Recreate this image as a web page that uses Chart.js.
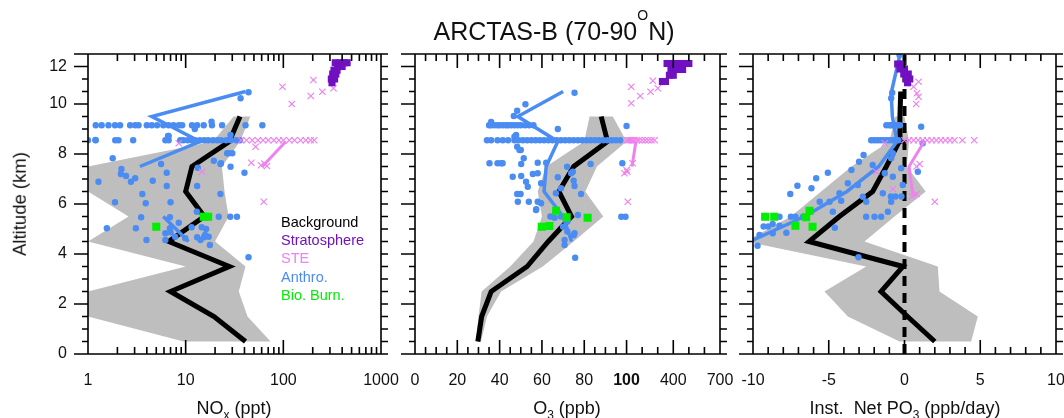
<!DOCTYPE html>
<html>
<head>
<meta charset="utf-8">
<script src="https://cdn.jsdelivr.net/npm/chart.js@4.4.0/dist/chart.umd.min.js"></script>
<style>
  body { margin: 0; background: #fff; font-family: 'Liberation Sans', Arial, sans-serif; }
  #wrap { position: relative; width: 1064px; height: 418px; overflow: hidden; }
  canvas { position: absolute; left: 0; top: 0; }
  .t { position: absolute; white-space: nowrap; color: #111; }
  #title { left: 554px; top: 15px; font-size: 25px; line-height: 25px; transform: translateX(-50%); }
  #title .deg { font-size: 14px; vertical-align: 20px; line-height: 0; }
  .xlab { top: 399px; font-size: 18px; line-height: 18px; transform: translateX(-50%); }
  .xlab sub { font-size: 12px; vertical-align: -5px; line-height: 0; }
  #ylab { left: 20px; top: 204px; font-size: 18.5px; line-height: 18.5px; transform: translate(-50%, -50%) rotate(-90deg); }
  #legend { left: 281px; top: 213px; font-size: 14.5px; line-height: 18.2px; }
</style>
</head>
<body>
<div id="wrap">
  <canvas id="noxChart" width="1064" height="418"></canvas>
  <canvas id="o3Chart" width="1064" height="418"></canvas>
  <canvas id="po3Chart" width="1064" height="418"></canvas>
  <div class="t" id="title">ARCTAS-B (70-90<span class="deg">O</span>N)</div>
  <div class="t" id="ylab">Altitude (km)</div>
  <div class="t xlab" style="left:234px">NO<sub>x</sub> (ppt)</div>
  <div class="t xlab" style="left:567px">O<sub>3</sub> (ppb)</div>
  <div class="t xlab" style="left:905px">Inst.&nbsp; Net PO<sub>3</sub> (ppb/day)</div>
  <div class="t" id="legend"></div>
</div>
<script>
// altitude levels (km)
const ALT = [0.5, 1.5, 2.5, 3.5, 4.5, 5.5, 6.5, 7.5, 8.5, 9.5];
const ALT_PO3 = [0.5, 1.5, 2.5, 3.5, 4.5, 5.5, 6.5, 7.5, 8.5, 9.5, 10.5];
const ANTH_ALT = [10.5, 9.5, 8.5, 7.5, 6.5, 5.5, 4.5];
const ROW_UPPER = 9.15;
const ROW_LOWER = 8.55;

const legendLabels = ['Background', 'Stratosphere', 'STE', 'Anthro.', 'Bio. Burn.'];
const legendColors = ['#000000', '#7010c0', '#ee82ee', '#4a8cf2', '#00ee00'];
const BAND = '#bebebe';

// ---- NOx (ppt) ----
const noxBackground = [41, 19.5, 7, 28, 6.7, 15.5, 10, 11.6, 28, 36];
const noxLow = [9.5, 1, 1, 10, 1, 2.6, 1, 1, 19, 31];
const noxHigh = [74, 43, 35, 41, 20, 27.5, 25, 23.5, 36, 46];
const noxAnthroLine = [41, 4.5, 14, 3.4, null, 5.9, 10.7];
const noxAnthroUpperRow = [1.2, 1.38, 1.62, 1.89, 2.13, 2.7, 3.04, 3.29, 4.0, 4.5, 5.1, 5.9, 6.7, 7.5, 8.5, 9.2, 11.6, 13.1, 15.3, 18.6, 23.6, 41, 61];
const noxAnthroLowerRow = [1.0, 1.2, 1.9, 2.05, 2.9, 6.2, 6.7, 8.8, 9.5, 10.5, 11.5, 12.5, 14, 15.5, 17, 19, 21, 23, 26, 29, 33, 36];
const noxAnthroPts = [[44, 10.47], [36.5, 10.23], [18.4, 9.29], [12.4, 9.0], [6.7, 8.72], [28.8, 8.76], [26.6, 8.03], [30, 8.03],
  [1.79, 7.83], [19.4, 7.73], [22.7, 7.6], [5.6, 7.6], [28.8, 7.49], [13.3, 7.45], [2.2, 7.4], [2.17, 7.2], [2.45, 7.12],
  [2.75, 6.89], [3.04, 7.03], [1.28, 6.89], [4.6, 6.93], [6.4, 7.25], [6.4, 6.72], [13.1, 6.72], [40, 7.25], [3.6, 6.4],
  [22.7, 6.4], [3.9, 6.03], [1.89, 6.07], [7.0, 6.07], [3.5, 5.47], [6.9, 5.47], [13, 5.69], [21.8, 5.49], [28.6, 5.49],
  [33.5, 5.49], [1.56, 5.03], [3.09, 5.03], [6.9, 5.03], [8.5, 5.25], [11.5, 5.07], [14.6, 5.07], [16.2, 5.0], [17.2, 4.69],
  [6.2, 4.83], [7.0, 4.87], [7.8, 4.69], [9.9, 4.63], [13.1, 4.67], [15.4, 4.67], [3.97, 4.56], [6.2, 4.56], [14.2, 4.56],
  [15.8, 4.76], [17.7, 4.36], [44, 3.87], [23, 7.63], [27.5, 8.03], [6.6, 8.72], [1.19, 8.56]];
const noxSteRow = [37, 42, 48, 55, 62, 70, 80, 90, 100, 115, 130, 150, 170, 190, 207];
const noxStePts = [[98, 10.69], [203, 10.96], [191, 10.32], [251, 10.49], [326, 10.63], [122, 10.0], [8.5, 8.43],
  [14.7, 7.29], [52, 8.29], [47, 7.65], [63, 6.09], [59, 7.55], [64, 7.62], [68, 7.52]];
const noxSteLine = [[106, 8.5], [61, 7.5]];
const noxStrat = [[340, 11.65], [380, 11.65], [420, 11.65], [450, 11.65], [360, 11.5], [400, 11.5], [330, 11.35],
  [355, 11.35], [320, 11.2], [345, 11.2], [310, 11.0], [335, 11.0], [315, 10.85]];
const noxBio = [[5.0, 5.09], [15.3, 5.49], [17, 5.49]];
const noxTickVals = [1, 10, 100, 1000];

// ---- O3 (ppb), axis broken at 100 ----
const o3Background = [29.7, 31.5, 36, 53, 63, 74, 68, 75, 91, 88];
const o3Low = [28.9, 30, 31.5, 45, 56, 60, 58, 62, 80, 82.5];
const o3High = [31.2, 34, 40.7, 60.4, 75, 89, 80.5, 86, 100, 93.5];
const o3AnthroLine = [70, 48.6, 67.5, 62, 61, 70, 74];
const o3AnthroUpperRow = [35, 36, 37.5, 39, 40, 41.5, 43, 44, 45.5, 47, 48.5, 50, 52, 54, 56];
const o3AnthroLowerRow = [34, 36, 39, 41.5, 44, 47, 49, 51, 53, 55, 57, 59, 61, 63, 65, 67, 69, 71, 73, 75, 77, 79, 81, 83, 85, 87, 89, 91, 93, 95, 97];
const o3AnthroPts = [[75.4, 10.45], [52.2, 9.99], [48.3, 9.73], [46.7, 9.52], [36, 9.28], [67.5, 9.0], [100, 9.12],
  [47.8, 8.76], [48.3, 8.29], [49.4, 8.16], [35.2, 7.63], [39, 7.63], [40.7, 7.63], [51.4, 7.83], [50.2, 7.6], [58, 7.65],
  [62, 7.65], [71.9, 7.49], [74.6, 7.29], [83, 7.6], [98, 7.63], [46.2, 7.09], [50.2, 7.12], [55.7, 7.2], [59.6, 6.83],
  [53.3, 6.69], [52.5, 6.89], [67.5, 7.07], [75.4, 6.72], [78.5, 6.4], [48.3, 6.4], [49.9, 6.4], [48.6, 6.09], [53.8, 6.09],
  [58, 6.09], [59.6, 6.03], [57.3, 5.79], [77, 5.56], [70, 5.09], [72, 4.9], [75, 4.75], [70.7, 4.56], [75.4, 4.83],
  [70.7, 4.36], [75.7, 3.85], [69, 5.5], [66, 5.45], [64, 5.5], [72, 5.3], [97.5, 5.49], [99.5, 5.49], [47, 8.69],
  [50, 8.16], [41.4, 7.63], [58, 7.23], [66.6, 6.43], [69, 6.63], [73.8, 7.23], [75, 6.93], [57.2, 5.76]];
const o3SteRow = [102, 110, 120, 130, 140, 150, 165, 180, 200, 220, 240, 260, 280];
const o3StePts = [[130, 10.69], [130, 10.03], [188, 10.32], [254, 10.49], [269, 10.93], [301, 10.63], [104, 7.29],
  [139, 7.63], [100, 7.36], [99, 7.23], [108, 6.09]];
const o3SteLine = [[160, 8.5], [135, 7.5]];
const o3Strat = [[360, 11.62], [400, 11.62], [440, 11.62], [480, 11.62], [500, 11.62], [385, 11.38], [420, 11.38],
  [460, 11.38], [375, 11.15], [400, 11.15], [330, 10.9], [350, 10.9]];
const o3Bio = [[66.7, 5.73], [71.7, 5.47], [81.6, 5.45], [59.9, 5.09], [63.5, 5.12]];
const o3TickVals = [0, 20, 40, 60, 80, 100, 400, 700];
const O3_BREAK = 100;
const O3_SQUEEZE = 0.0736;

// ---- Net PO3 (ppb/day) ----
const po3Background = [2.0, 0.2, -1.55, -0.1, -6.3, -4.3, -2.1, -1.2, -0.35, -0.3, -0.25];
const po3Low = [-0.33, -3.74, -5.28, -2.53, -10.5, -7.5, -5.5, -3.5, -1.0, -0.6];
const po3High = [4.4, 4.84, 2.31, 2.2, -2.64, -0.66, 1.4, 0.15, 0.3, 0.0];
const po3AnthroLine = [[-0.33, 11.9], [-0.88, 10.43], [-0.8, 9.5], [-0.5, 8.5], [-1.7, 7.5], [-3.8, 6.5], [-6.6, 5.5], [-10.2, 4.5]];
const po3AnthroUpperRow = [-1.2, -1.0, -0.9, -0.75, -0.6, -0.45, -0.3];
const po3AnthroLowerRow = [-2.2, -2.0, -1.8, -1.6, -1.4, -1.2, -1.0, -0.8, -0.6, -0.4];
const po3AnthroPts = [[-0.33, 11.96], [-0.81, 10.45], [-0.88, 10.23], [1.1, 9.09], [1.2, 8.43], [0.88, 7.29], [-0.77, 8.03],
  [-0.88, 7.83], [-0.22, 7.43], [-2.7, 7.96], [-3.0, 7.69], [-3.5, 7.36], [-2.1, 7.56], [-1.3, 7.23], [-0.77, 7.09],
  [-0.11, 6.76], [-5.83, 7.03], [-5.06, 7.25], [-7.07, 6.73], [-6.14, 6.63], [-7.54, 6.4], [-3.74, 6.83], [-3.08, 6.76],
  [-2.75, 6.29], [-1.43, 6.43], [-0.9, 6.3], [-0.6, 6.3], [-0.2, 6.3], [-2.53, 6.09], [-4.29, 6.43], [-5.6, 6.09],
  [-4.95, 6.09], [-4.18, 6.13], [-4.73, 5.69], [-2.53, 5.49], [-1.98, 5.49], [-1.54, 5.49], [-1.1, 5.69], [-7.5, 5.49],
  [-7.2, 5.49], [-6.7, 5.49], [-8.25, 5.49], [-8.7, 5.2], [-8.25, 5.13], [-9.0, 5.1], [-9.3, 5.1], [-9.57, 4.76],
  [-7.8, 4.85], [-4.6, 5.05], [-9.7, 4.33], [-8.7, 4.83], [-3.04, 3.87], [-0.88, 6.09]];
const po3SteRow = [0, 0.3, 0.6, 0.9, 1.2, 1.5, 1.8, 2.1, 2.4, 2.7, 3.0, 3.3];
const po3StePts = [[3.82, 8.55], [4.6, 8.55], [0.93, 10.89], [0.6, 10.69], [0.82, 10.43], [0.93, 10.29], [0.77, 10.0],
  [-1.3, 8.43], [-1.87, 7.29], [-0.77, 6.6], [0.66, 6.36], [0.5, 6.3], [0.8, 6.4], [2.0, 6.09], [1.0, 7.6], [0.8, 7.5]];
const po3SteLine = [[1.3, 8.5], [0.3, 7.5], [0.55, 6.36]];
const po3Strat = [[-0.45, 11.6], [-0.15, 11.6], [-0.3, 11.4], [0.0, 11.4], [-0.05, 11.2], [0.25, 11.2], [0.1, 11.0],
  [0.35, 11.0], [0.2, 10.85]];
const po3Bio = [[-9.2, 5.49], [-8.6, 5.49], [-6.27, 5.73], [-6.49, 5.47], [-7.2, 5.13], [-6.07, 5.09]];
const po3Zero = [[0, 0], [0, 12]];
const po3TickVals = [-10, -5, 0, 5, 10];

const altTickVals = [0, 2, 4, 6, 8, 10, 11.5];
const altTickText = ['0', '2', '4', '6', '8', '10', '12'];

const FONT = "'Liberation Sans', Arial, sans-serif";
const X_LABEL_BOX = 40;   // height of the x tick label strip
const Y_LABEL_BOX = 68;   // width of the y tick label strip (first panel)
const ident = v => v;
const o3x = v => v <= O3_BREAK ? v : O3_BREAK + (v - O3_BREAK) * O3_SQUEEZE;

function pts(pairs, fx) { return pairs.map(([v, z]) => ({ x: fx(v), y: z })); }
function row(vals, alt, fx) { return vals.map(v => ({ x: fx(v), y: alt })); }
function profile(vals, alts, fx) { return vals.map((v, i) => ({ x: v == null ? null : fx(v), y: alts[i] })); }
function band(lo, hi, alts, fx) {
  const left = lo.map((v, i) => ({ x: fx(v), y: alts[i] }));
  const right = hi.map((v, i) => ({ x: fx(v), y: alts[i] })).reverse();
  return left.concat(right);
}

// frame with inward x ticks and outward y ticks, IDL style
const framePlugin = {
  id: 'frame',
  afterDatasetsDraw(chart, args, opts) {
    const { ctx, chartArea: a } = chart;
    const xs = chart.scales.x, ys = chart.scales.y;
    ctx.save();
    ctx.strokeStyle = '#000';
    ctx.lineWidth = 1.6;
    ctx.beginPath();
    ctx.moveTo(a.left, a.top); ctx.lineTo(a.left, a.bottom);
    ctx.moveTo(a.right, a.top); ctx.lineTo(a.right, a.bottom);
    ctx.moveTo(a.left - 14, a.top); ctx.lineTo(a.right + 7, a.top);
    ctx.moveTo(a.left - 14, a.bottom); ctx.lineTo(a.right + 7, a.bottom);
    const xTicks = (vals, len) => vals.forEach(v => {
      const p = xs.getPixelForValue(v);
      ctx.moveTo(p, a.bottom); ctx.lineTo(p, a.bottom - len);
      ctx.moveTo(p, a.top); ctx.lineTo(p, a.top + len);
    });
    const yTicks = (vals, len) => vals.forEach(v => {
      const p = ys.getPixelForValue(v);
      ctx.moveTo(a.left, p); ctx.lineTo(a.left - len, p);
      ctx.moveTo(a.right, p); ctx.lineTo(a.right + 7, p);
    });
    xTicks(opts.xMajor, 14);
    xTicks(opts.xMinor, 7);
    yTicks(altTickVals, 14);
    yTicks(opts.yMinor, 6);
    ctx.stroke();
    ctx.restore();
  }
};

const yMinor = [];
for (let z = 0.5; z < 11.5; z += 0.5) if (!altTickVals.includes(z)) yMinor.push(z);

function makePanel(id, cfg) {
  const fx = cfg.fx;
  const datasets = [
    { data: band(cfg.low, cfg.high, ALT, fx), showLine: true, fill: 'shape', backgroundColor: BAND,
      borderWidth: 0, pointRadius: 0, order: 10 },
    { data: profile(cfg.background, cfg.bgAlt, fx), showLine: true, borderColor: '#000', borderWidth: 5,
      pointRadius: 0, order: 9 },
    { data: row(cfg.anthroUpper, ROW_UPPER, fx).concat(row(cfg.anthroLower, ROW_LOWER, fx), pts(cfg.anthroPts, fx)),
      pointStyle: 'circle', pointRadius: 3.2, backgroundColor: legendColors[3], borderWidth: 0, order: 7 },
    { data: cfg.anthroLine, showLine: true, borderColor: legendColors[3], borderWidth: 3.5, pointRadius: 0, order: 6 },
    { data: row(cfg.steRow, ROW_LOWER, fx).concat(pts(cfg.stePts, fx)), pointStyle: 'crossRot', pointRadius: 4.5,
      borderColor: legendColors[2], borderWidth: 1.2, backgroundColor: legendColors[2], order: 5 },
    { data: pts(cfg.steLine, fx), showLine: true, borderColor: legendColors[2], borderWidth: 3, pointRadius: 0, order: 4 },
    { data: pts(cfg.strat, fx), pointStyle: 'rect', pointRadius: 5, backgroundColor: legendColors[1], borderWidth: 0, order: 3 },
    { data: pts(cfg.bio, fx), pointStyle: 'rect', pointRadius: 5.7, backgroundColor: legendColors[4], borderWidth: 0, order: 2 }
  ];
  if (cfg.zero) {
    datasets.push({ data: pts(cfg.zero, fx), showLine: true, borderColor: '#000', borderWidth: 4,
      borderDash: [10, 7], pointRadius: 0, order: 8 });
  }
  const yBox = cfg.showY ? Y_LABEL_BOX : 0;
  return new Chart(document.getElementById(id), {
    type: 'scatter',
    data: { datasets },
    options: {
      responsive: false,
      animation: false,
      devicePixelRatio: 1,
      events: [],
      layout: { padding: { left: cfg.left - yBox, right: 1064 - cfg.right, top: 54, bottom: 418 - 354 - X_LABEL_BOX } },
      plugins: {
        legend: { display: false },
        tooltip: { enabled: false },
        frame: { xMajor: cfg.xMajor, xMinor: cfg.xMinor, yMinor }
      },
      scales: {
        x: {
          type: cfg.xType, min: cfg.xMin, max: cfg.xMax,
          grid: { display: false, drawTicks: false }, border: { display: false },
          afterBuildTicks: s => { s.ticks = cfg.tickVals.map(v => ({ value: fx(v) })); },
          afterFit: s => { s.height = X_LABEL_BOX; s.paddingLeft = 0; s.paddingRight = 0; },
          ticks: {
            autoSkip: false, maxRotation: 0, minRotation: 0, padding: 17, color: '#111',
            font: c => ({ family: FONT, size: 16, weight: (cfg.boldTick != null && c.index === cfg.boldTick) ? 'bold' : 'normal' }),
            callback: (v, i) => String(cfg.tickVals[i])
          }
        },
        y: {
          type: 'linear', min: 0, max: 12, display: cfg.showY,
          grid: { display: false, drawTicks: false }, border: { display: false },
          afterBuildTicks: s => { s.ticks = altTickVals.map(v => ({ value: v })); },
          afterFit: s => { s.width = yBox; s.paddingTop = 0; s.paddingBottom = 0; },
          ticks: {
            autoSkip: false, padding: 21, color: '#111', font: { family: FONT, size: 16 },
            callback: (v, i) => altTickText[i]
          }
        }
      }
    },
    plugins: [framePlugin]
  });
}

const noxMinor = [];
[1, 10, 100].forEach(d => { for (let k = 2; k <= 9; k++) noxMinor.push(d * k); });
const o3Minor = [];
for (let v = 5; v < 100; v += 5) if (v % 20) o3Minor.push(v);
[200, 300, 500, 600].forEach(v => o3Minor.push(o3x(v)));
const po3Minor = [];
for (let v = -9; v <= 9; v++) if (v % 5) po3Minor.push(v);

makePanel('noxChart', {
  fx: ident, left: 88, right: 381, xType: 'logarithmic', xMin: 1, xMax: 1000, showY: true,
  tickVals: noxTickVals, xMajor: noxTickVals, xMinor: noxMinor,
  low: noxLow, high: noxHigh, background: noxBackground, bgAlt: ALT,
  anthroUpper: noxAnthroUpperRow, anthroLower: noxAnthroLowerRow, anthroPts: noxAnthroPts,
  anthroLine: profile(noxAnthroLine, ANTH_ALT, ident),
  steRow: noxSteRow, stePts: noxStePts, steLine: noxSteLine, strat: noxStrat, bio: noxBio
});

makePanel('o3Chart', {
  fx: o3x, left: 415, right: 720, xType: 'linear', xMin: 0, xMax: o3x(700), showY: false, boldTick: 5,
  tickVals: o3TickVals, xMajor: o3TickVals.map(o3x), xMinor: o3Minor,
  low: o3Low, high: o3High, background: o3Background, bgAlt: ALT,
  anthroUpper: o3AnthroUpperRow, anthroLower: o3AnthroLowerRow, anthroPts: o3AnthroPts,
  anthroLine: profile(o3AnthroLine, ANTH_ALT, o3x),
  steRow: o3SteRow, stePts: o3StePts, steLine: o3SteLine, strat: o3Strat, bio: o3Bio
});

makePanel('po3Chart', {
  fx: ident, left: 753, right: 1056, xType: 'linear', xMin: -10, xMax: 10, showY: false,
  tickVals: po3TickVals, xMajor: po3TickVals, xMinor: po3Minor,
  low: po3Low, high: po3High, background: po3Background, bgAlt: ALT_PO3,
  anthroUpper: po3AnthroUpperRow, anthroLower: po3AnthroLowerRow, anthroPts: po3AnthroPts,
  anthroLine: pts(po3AnthroLine, ident),
  steRow: po3SteRow, stePts: po3StePts, steLine: po3SteLine, strat: po3Strat, bio: po3Bio, zero: po3Zero
});

// legend text inside the first panel
const legend = document.getElementById('legend');
legendLabels.forEach((t, i) => {
  const d = document.createElement('div');
  d.textContent = t;
  d.style.color = legendColors[i];
  legend.appendChild(d);
});
</script>
</body>
</html>
